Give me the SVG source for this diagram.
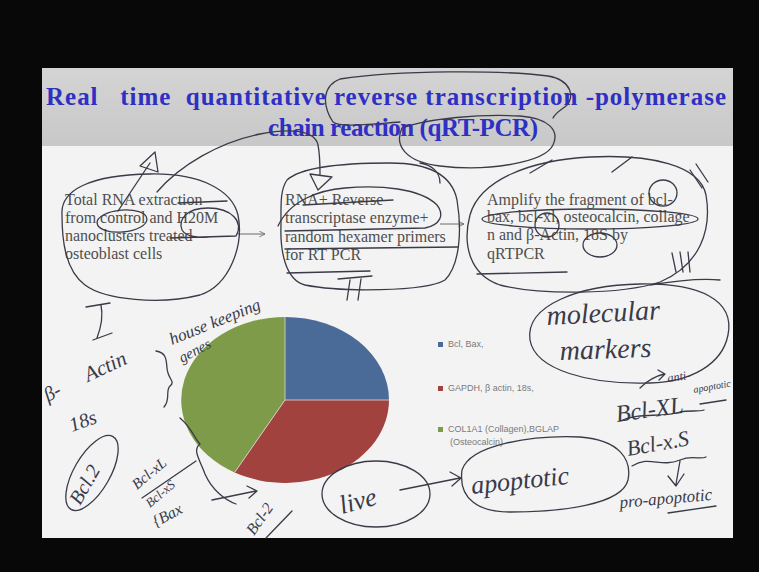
<svg xmlns="http://www.w3.org/2000/svg" width="759" height="572" viewBox="0 0 759 572">
<style>
.ink{fill:none;stroke:#3a3a48;stroke-width:1.3;stroke-linecap:round;stroke-linejoin:round}
.hw{font-family:"Liberation Serif",serif;font-style:italic;fill:#3a3a48}
.box{font-family:"Liberation Serif",serif;font-size:16px;fill:#4e4e4e}
.leg{font-family:"Liberation Sans",sans-serif;font-size:9px;fill:#7a7a7a}
.title{font-family:"Liberation Serif",serif;font-weight:bold;font-size:25px;fill:#2f2fc4}
.arr{stroke:#6a6a6a;stroke-width:1;fill:none}
</style>
<defs>
<marker id="ah" viewBox="0 0 10 10" refX="9" refY="5" markerWidth="7" markerHeight="7" orient="auto" markerUnits="userSpaceOnUse">
<path d="M1,1 L9,5 L1,9" fill="none" stroke="#6a6a6a" stroke-width="1.2"/>
</marker>
<linearGradient id="band" x1="0" y1="0" x2="0" y2="1">
<stop offset="0" stop-color="#d4d4d4"/><stop offset="1" stop-color="#c8c8c8"/>
</linearGradient>
</defs>
<rect x="0" y="0" width="759" height="572" fill="#080808"/>
<rect x="42" y="68" width="691" height="470" fill="#f3f3f3"/>
<g id="title">
<rect x="42" y="68" width="691" height="78" fill="url(#band)"/>
<text class="title" x="46" y="105" textLength="680" lengthAdjust="spacing" xml:space="preserve">Real   time  quantitative reverse transcription -polymerase</text>
<text class="title" x="268" y="136" textLength="270" lengthAdjust="spacing">chain reaction (qRT-PCR)</text>
</g>
<g id="box1">
<text class="box" x="65" y="205">Total RNA extraction</text>
<text class="box" x="65" y="223">from control and H20M</text>
<text class="box" x="65" y="241">nanoclusters treated</text>
<text class="box" x="65" y="259">osteoblast cells</text>
</g>
<g id="box2">
<text class="box" x="285" y="205">RNA+ Reverse</text>
<text class="box" x="285" y="223">transcriptase enzyme+</text>
<text class="box" x="285" y="242">random hexamer primers</text>
<text class="box" x="285" y="260">for RT PCR</text>
</g>
<g id="box3">
<text class="box" x="487" y="205">Amplify the fragment of bcl-</text>
<text class="box" x="487" y="222">bax, bcl-xl, osteocalcin, collage</text>
<text class="box" x="487" y="240">n and β-Actin, 18S by</text>
<text class="box" x="487" y="259">qRTPCR</text>
</g>
<g id="connectors">
<line class="arr" x1="238" y1="234" x2="265" y2="234" marker-end="url(#ah)"/>
<line class="arr" x1="440" y1="224" x2="464" y2="224" marker-end="url(#ah)"/>
</g>
<g id="pie">
<path d="M285,400 L285,317 A104,83 0 0 1 389,400 Z" fill="#4a6b98"/>
<path d="M285,400 L389,400 A104,83 0 0 1 234.6,472.5 Z" fill="#a2423e"/>
<path d="M285,400 L234.6,472.5 A104,83 0 0 1 285,317 Z" fill="#7e9b4a"/>
<path d="M285,317 L285,400 L389,400 M285,400 L234.6,472.5" fill="none" stroke="#dcdcdc" stroke-width="0.8"/>
</g>
<g id="legend">
<rect x="438" y="342" width="5" height="5" fill="#4a6b98"/>
<text class="leg" x="448" y="347">Bcl, Bax,</text>
<rect x="438" y="386" width="5" height="5" fill="#a2423e"/>
<text class="leg" x="448" y="391">GAPDH, β actin, 18s,</text>
<rect x="438" y="427" width="5" height="5" fill="#7e9b4a"/>
<text class="leg" x="448" y="432">COL1A1 (Collagen),BGLAP</text>
<text class="leg" x="450" y="445">(Osteocalcin)</text>
</g>
<g id="annotations">
<path class="ink" d="M400,122 C370,124 340,128 333,122 C322,105 322,86 340,79 C400,70 500,70 548,76 C572,80 575,98 566,106 C561,110 556,112 553,118"/>
<path class="ink" d="M402,128 C394,145 405,162 440,166 C490,172 545,162 553,145 C560,130 548,118 520,116 C480,114 430,118 402,128"/>
<path class="ink" d="M118,211 L150,163 M140,166 L155,152 L158,172 Z"/>
<path class="ink" d="M157,192 C180,165 220,142 260,134 C290,128 315,130 318,145 C320,155 320,165 320,174 M310,174 L332,177 L318,190 Z"/>
<path class="ink" d="M62,215 C60,190 90,175 150,174 C200,173 232,190 238,215 C244,245 230,285 200,295 C160,305 105,300 85,285 C65,270 62,240 62,215"/>
<ellipse class="ink" cx="122" cy="221" rx="25" ry="11" transform="rotate(-5 122 221)"/>
<path class="ink" d="M236,236 C244,222 232,208 208,208 C186,208 178,220 182,230 C186,237 200,238 210,237 M178,203 L227,201 M170,238 L236,236"/>
<path class="ink" d="M287,180 C300,168 340,163 390,163 C430,163 452,175 457,200 C462,230 460,265 445,280 C425,292 340,292 305,285 C285,280 280,250 281,225 C281,205 280,190 287,180"/>
<path class="ink" d="M278,226 C290,200 320,190 345,188 C380,185 420,188 437,205 C445,215 440,225 425,228 L285,231 M420,163 C432,165 440,172 440,183"/>
<path class="ink" d="M303,205 L393,200 M285,249 L458,247 M287,273 L370,271"/>
<path class="ink" d="M338,279 L372,276 M350,280 L347,300 M361,279 L358,300"/>
<path class="ink" d="M470,215 C480,180 530,160 590,157 C650,154 700,165 706,195 C712,230 700,265 660,282 C620,295 540,295 500,285 C470,275 462,245 470,215 M650,285 C680,280 700,278 720,280"/>
<ellipse class="ink" cx="590" cy="219" rx="108" ry="10"/>
<ellipse class="ink" cx="547" cy="225" rx="12" ry="12"/>
<ellipse class="ink" cx="600" cy="245" rx="17" ry="12"/>
<ellipse class="ink" cx="663" cy="193" rx="14" ry="13"/>
<path class="ink" d="M530,173 L552,160 M612,172 L632,157 M690,170 L702,188 M696,164 L708,182"/>
<path class="ink" d="M672,253 L676,272 M680,252 L683,272 M688,252 L690,272 M477,274 L567,272"/>
<path class="ink" d="M86,307 L110,303 M101,305 C103,315 102,325 97,338 M93,340 L112,333"/>
<text class="hw" font-size="17" transform="translate(172,345) rotate(-22)">house keeping</text>
<text class="hw" font-size="15" transform="translate(182,363) rotate(-28)">genes</text>
<text class="hw" font-size="20" transform="translate(48,402) rotate(-28)">β-</text>
<text class="hw" font-size="21" transform="translate(88,382) rotate(-25)">Actin</text>
<path class="ink" d="M156,351 C170,353 165,366 168,373 C170,380 175,382 170,386 C165,391 171,399 164,407"/>
<text class="hw" font-size="20" transform="translate(72,432) rotate(-20)">18s</text>
<ellipse class="ink" cx="92" cy="473" rx="42" ry="18" transform="rotate(-60 92 473)"/>
<text class="hw" font-size="20" transform="translate(80,506) rotate(-60)">Bcl.2</text>
<text class="hw" font-size="15" transform="translate(137,490) rotate(-40)">Bcl-xL</text>
<path class="ink" d="M142,498 L196,461"/>
<text class="hw" font-size="13" transform="translate(150,508) rotate(-40)">Bcl-xS</text>
<text class="hw" font-size="16" transform="translate(156,527) rotate(-28)">{Bax</text>
<path class="ink" d="M180,418 C192,428 194,438 200,444 C192,450 200,460 205,474 C212,490 225,500 236,504 M212,500 L256,491 M247,486 L257,491 L249,498"/>
<text class="hw" font-size="16" transform="translate(254,536) rotate(-55)">Bcl-2</text>
<path class="ink" d="M266,538 L292,511"/>
<ellipse class="ink" cx="376" cy="494" rx="54" ry="33"/>
<text class="hw" font-size="26" transform="translate(342,514) rotate(-15)">live</text>
<path class="ink" d="M400,490 L460,478 M450,472 L461,478 L452,486"/>
<path class="ink" d="M462,470 C470,445 530,435 580,437 C620,440 632,460 628,480 C622,505 560,512 510,512 C480,512 458,500 462,470"/>
<text class="hw" font-size="26" transform="translate(472,494) rotate(-6)">apoptotic</text>
<path class="ink" d="M530,340 C525,305 580,285 640,284 C700,283 735,300 728,335 C722,365 690,382 650,383 C590,385 535,370 530,340"/>
<text class="hw" font-size="28" transform="translate(547,325) rotate(-3)">molecular</text>
<text class="hw" font-size="28" transform="translate(560,360) rotate(-2)">markers</text>
<path class="ink" d="M640,388 C648,380 656,376 664,374 M658,370 L665,374 L659,380"/>
<text class="hw" font-size="12" transform="translate(668,382) rotate(-8)">anti-</text>
<text class="hw" font-size="24" transform="translate(617,422) rotate(-8)">Bcl-XL</text>
<text class="hw" font-size="10" transform="translate(694,393) rotate(-10)">apoptotic</text>
<path class="ink" d="M700,404 L726,400 M620,421 C640,412 660,418 680,412 C690,410 698,412 704,410"/>
<text class="hw" font-size="22" transform="translate(628,456) rotate(-10)">Bcl-x.S</text>
<path class="ink" d="M632,466 C650,455 660,468 680,460 C692,455 700,460 706,457 M680,461 L676,484 M668,476 L676,486 L684,474"/>
<text class="hw" font-size="17" transform="translate(620,508) rotate(-5)">pro-apoptotic</text>
<path class="ink" d="M668,513 L716,506"/>
</g>
</svg>
